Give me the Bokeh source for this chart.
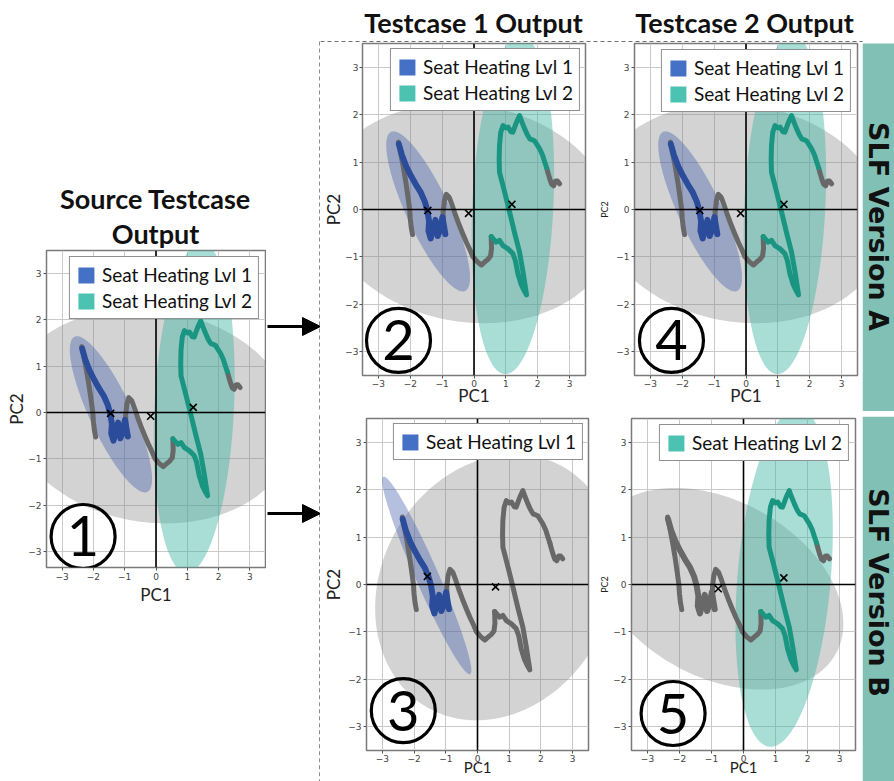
import math
import numpy as np
from bokeh.plotting import figure
from bokeh.layouts import row, column
from bokeh.models import Range1d, FixedTicker, Span, Legend, LegendItem, Arrow, NormalHead
from bokeh.core.properties import value
from bokeh.embed import file_html
from bokeh.resources import INLINE

# ---------------- data ----------------
tick_values = [-3, -2, -1, 0, 1, 2, 3]
tick_labels = ["−3", "−2", "−1", "0", "1", "2", "3"]

# trajectory (PC1, PC2) in pieces
left_gray_x = [-2.37, -2.30, -2.22, -2.14, -2.07, -2.02, -2.00, -1.97, -1.93]
left_gray_y = [1.42, 1.18, 0.90, 0.58, 0.25, 0.00, -0.20, -0.38, -0.53]

lvl1_x = [-2.36, -2.26, -2.12, -1.97, -1.82, -1.67, -1.54, -1.46, -1.41, -1.43,
          -1.36, -1.29, -1.21, -1.14, -1.06, -0.99, -0.94, -0.90]
lvl1_y = [1.38, 1.14, 0.90, 0.70, 0.52, 0.36, 0.16, -0.04, -0.25, -0.45,
          -0.61, -0.42, -0.22, -0.56, -0.42, -0.16, -0.36, -0.52]

mid_gray_x = [-0.90, -0.96, -0.97, -0.93, -0.87, -0.78, -0.68, -0.58, -0.48, -0.36,
              -0.24, -0.12, -0.03, 0.10, 0.23, 0.35, 0.44, 0.52, 0.55, 0.54]
mid_gray_y = [-0.52, -0.30, -0.05, 0.18, 0.32, 0.26, 0.08, -0.12, -0.30, -0.50,
              -0.69, -0.86, -1.00, -1.10, -1.17, -1.10, -1.05, -0.98, -0.82, -0.57]

lvl2_x = [0.54, 0.62, 0.70, 0.80, 0.91, 1.07, 1.22, 1.30, 1.38, 1.48, 1.58, 1.65,
          1.54, 1.43, 1.27, 1.12, 0.96, 0.80, 0.79, 0.80, 0.84, 0.91, 1.00, 1.07,
          1.16, 1.22, 1.28, 1.34, 1.43, 1.50, 1.59, 1.67, 1.75, 1.90, 2.06, 2.15, 2.22, 2.28]
lvl2_y = [-0.57, -0.63, -0.69, -0.65, -0.76, -0.83, -0.93, -1.08, -1.36, -1.58, -1.72, -1.80,
          -1.32, -0.90, -0.48, -0.06, 0.37, 0.79, 1.05, 1.35, 1.63, 1.77, 1.72, 1.74,
          1.64, 1.63, 1.74, 1.85, 1.98, 1.85, 1.70, 1.58, 1.49, 1.45, 1.28, 1.15, 1.00, 0.88]

right_gray_x = [2.28, 2.32, 2.38, 2.44, 2.50, 2.56, 2.62, 2.69]
right_gray_y = [0.88, 0.78, 0.64, 0.53, 0.50, 0.60, 0.60, 0.54]

# class centres ("x" markers)
centres_a_x = [-1.45, -0.17, 1.19]
centres_a_y = [-0.02, -0.08, 0.11]
centres_b1_x = [-1.58, 0.57]
centres_b1_y = [0.17, -0.05]
centres_b2_x = [-0.79, 1.26]
centres_b2_y = [-0.09, 0.14]

# ellipses: centre x, centre y, semi-axis a, semi-axis b, angle (deg)
ell_gray_a = [-0.17, -0.08, 4.6, 2.3, -4.0]
ell_lvl1_a = [-1.44, -0.04, 2.05, 0.61, -53.5]
ell_lvl2_a = [1.22, 0.10, 3.58, 1.27, 85.7]
ell_gray_b1 = [0.57, -0.06, 3.85, 2.73, 13.6]
ell_lvl1_b1 = [-1.60, 0.19, 2.49, 0.33, -56.4]
ell_gray_b2 = [-0.79, -0.09, 4.0, 1.95, -14.0]
ell_lvl2_b2 = [1.27, 0.15, 3.6, 1.45, 82.0]

legend_labels = ["Seat Heating Lvl 1", "Seat Heating Lvl 2"]
titles_top = ["Testcase 1 Output", "Testcase 2 Output"]
title_left = ["Source Testcase", "Output"]
side_labels = ["SLF Version A", "SLF Version B"]
panel_numbers = ["1", "2", "3", "4", "5"]

# ---------------- styles ----------------
C_BLUE_SW = "#4470c6"
C_TEAL_SW = "#4cc2b3"
C_BLUE_PT = "#2b4b9b"
C_TEAL_PT = "#1a9581"
C_GRAY_PT = "#686868"
C_GRAY_EL = "#808080"
C_BLUE_EL = "#3a5aa8"
C_TEAL_EL = "#3db5a3"
C_SIDE = "#80c0b5"
DASH = dict(line_color="#707070", line_width=1.2, line_dash="4 3")


def ellipse_xy(params):
    cx, cy, a, b, ang = params
    t = np.linspace(0, 2 * np.pi, 241)
    r = math.radians(ang)
    ex = cx + a * np.cos(t) * math.cos(r) - b * np.sin(t) * math.sin(r)
    ey = cy + a * np.cos(t) * math.sin(r) + b * np.sin(t) * math.cos(r)
    return ex, ey


def make_panel(cfg):
    gl, gt, gr, gb = cfg["fig"]
    fl, ft, fr, fb = cfg["frame"]
    p = figure(width=gr - gl, height=gb - gt,
               x_range=Range1d(-3.5, 3.5), y_range=Range1d(*cfg["yr"]),
               min_border_left=fl - gl, min_border_right=gr - fr,
               min_border_top=ft - gt, min_border_bottom=gb - fb,
               toolbar_location=None, output_backend="svg")
    p.background_fill_color = "white"
    p.border_fill_color = "white"
    p.outline_line_color = "#7a7a7a"
    p.outline_line_width = 1.5
    for ax in (p.xaxis[0], p.yaxis[0]):
        ax.ticker = FixedTicker(ticks=tick_values, minor_ticks=[])
        ax.major_label_overrides = dict(zip(tick_values, tick_labels))
        ax.axis_line_color = None
        ax.major_tick_line_color = "#555555"
        ax.major_tick_in = 0
        ax.minor_tick_out = 0
        ax.minor_tick_in = 0
        ax.minor_tick_line_color = None
        ax.major_label_text_font = "DejaVu Sans"
        ax.major_label_text_font_size = "9px"
        ax.major_label_text_color = "#444444"
        ax.axis_label_text_font = "Lato"
        ax.axis_label_text_font_style = "normal"
        ax.axis_label_text_color = "#222222"
    xa, ya = p.xaxis[0], p.yaxis[0]
    xa.axis_label = "PC1"
    ya.axis_label = "PC2"
    xa.major_tick_out, xa.major_label_standoff, xa.axis_label_standoff, xs = cfg["xax"]
    ya.major_tick_out, ya.major_label_standoff, ya.axis_label_standoff, ys = cfg["yax"]
    xa.axis_label_text_font_size = xs
    ya.axis_label_text_font_size = ys
    for g in (p.xgrid[0], p.ygrid[0]):
        g.ticker = FixedTicker(ticks=tick_values, minor_ticks=[])
        g.grid_line_color = "#c9c9c9"
        g.grid_line_width = 1

    for params, col, alpha in cfg["ells"]:
        ex, ey = ellipse_xy(params)
        p.patch(ex, ey, fill_color=col, fill_alpha=alpha, line_color=None)

    lw = dict(line_join="round", line_cap="round")
    p.line(left_gray_x, left_gray_y, line_color=C_GRAY_PT, line_width=5, **lw)
    p.line(mid_gray_x, mid_gray_y, line_color=C_GRAY_PT, line_width=5, **lw)
    p.line(right_gray_x, right_gray_y, line_color=C_GRAY_PT, line_width=5, **lw)
    p.line(lvl2_x, lvl2_y, line_color=cfg["c2"], line_width=5, **lw)
    p.line(lvl1_x, lvl1_y, line_color=cfg["c1"], line_width=6, **lw)

    p.add_layout(Span(location=0, dimension="height", line_color="black", line_width=1.6))
    p.add_layout(Span(location=0, dimension="width", line_color="black", line_width=1.6))

    p.scatter(cfg["cx"], cfg["cy"], marker="x", size=10, line_color="black", line_width=1.6)

    nx, ny = cfg["num_xy"]
    p.scatter([nx], [ny], marker="circle", size=64, fill_color=None,
              line_color="black", line_width=3.2)
    p.text([nx], [ny], [cfg["num"]], text_font=value("Lato"), text_font_size="56px",
           text_align="center", text_baseline="middle", text_color="black")

    items = []
    for lab, col in cfg["legend"]:
        # legend swatch only: one empty (NaN) row so the swatch is drawn
        r = p.quad(left=[np.nan], right=[np.nan], top=[np.nan], bottom=[np.nan],
                   fill_color=col, line_color=None)
        items.append(LegendItem(label=lab, renderers=[r]))
    leg = Legend(items=items, location="top_right", margin=cfg.get("lmargin", 5),
                 padding=6, spacing=3, label_standoff=6,
                 glyph_width=20, glyph_height=20, label_height=20,
                 label_text_font="Lato", label_text_font_size="19px",
                 label_text_color="#111111",
                 border_line_color="#222222", border_line_width=1.2,
                 background_fill_color="white", background_fill_alpha=1.0)
    p.add_layout(leg)
    return p


def deco(box):
    x0, y0, x1, y1 = box
    p = figure(width=x1 - x0, height=y1 - y0,
               x_range=Range1d(x0, x1), y_range=Range1d(-y1, -y0),
               min_border=0, min_border_left=0, min_border_right=0,
               min_border_top=0, min_border_bottom=0,
               x_axis_location=None, y_axis_location=None,
               toolbar_location=None, output_backend="svg")
    p.grid.visible = False
    p.outline_line_color = None
    p.background_fill_color = "white"
    p.border_fill_color = "white"
    return p


def iso(p):
    # wrap a figure on its own so that neighbouring figures do not align frames
    return column(p)


TXT = dict(text_font=value("Lato"), text_font_style="bold", text_color="#111111",
           text_align="center", text_baseline="middle")

ells_a = [(ell_gray_a, C_GRAY_EL, 0.35), (ell_lvl1_a, C_BLUE_EL, 0.38), (ell_lvl2_a, C_TEAL_EL, 0.45)]
leg_both = [(legend_labels[0], C_BLUE_SW), (legend_labels[1], C_TEAL_SW)]

p1 = make_panel(dict(fig=(0, 249, 266, 781), frame=(46, 250, 265, 567), yr=(-3.35, 3.5),
                     xax=(3, 2, 1, "17px"), yax=(3, 2, -2, "17px"),
                     ells=ells_a, c1=C_BLUE_PT, c2=C_TEAL_PT,
                     cx=centres_a_x, cy=centres_a_y, num=panel_numbers[0], num_xy=(-2.33, -2.68),
                     legend=leg_both, lmargin=6))
p2 = make_panel(dict(fig=(320, 42, 596, 411), frame=(362, 43, 585, 375), yr=(-3.5, 3.5),
                     xax=(3, 1, -5, "17px"), yax=(3, 1, -2, "17px"),
                     ells=ells_a, c1=C_BLUE_PT, c2=C_TEAL_PT,
                     cx=centres_a_x, cy=centres_a_y, num=panel_numbers[1], num_xy=(-2.37, -2.76),
                     legend=leg_both))
p4 = make_panel(dict(fig=(596, 42, 862, 411), frame=(633, 43, 857, 375), yr=(-3.5, 3.5),
                     xax=(3, 1, -5, "17px"), yax=(3, 2, 3, "9px"),
                     ells=ells_a, c1=C_BLUE_PT, c2=C_TEAL_PT,
                     cx=centres_a_x, cy=centres_a_y, num=panel_numbers[3], num_xy=(-2.34, -2.76),
                     legend=leg_both, lmargin=6))
p3 = make_panel(dict(fig=(320, 416, 596, 781), frame=(366, 418, 588, 750), yr=(-3.5, 3.5),
                     xax=(3, 1, -7, "15px"), yax=(3, 2, 1, "17px"),
                     ells=[(ell_gray_b1, C_GRAY_EL, 0.35), (ell_lvl1_b1, C_BLUE_EL, 0.38)],
                     c1=C_BLUE_PT, c2=C_GRAY_PT,
                     cx=centres_b1_x, cy=centres_b1_y, num=panel_numbers[2], num_xy=(-2.34, -2.66),
                     legend=[(legend_labels[0], C_BLUE_SW)]))
p5 = make_panel(dict(fig=(596, 416, 862, 781), frame=(630, 418, 855, 750), yr=(-3.5, 3.5),
                     xax=(3, 1, -7, "15px"), yax=(3, 2, 0, "9px"),
                     ells=[(ell_gray_b2, C_GRAY_EL, 0.35), (ell_lvl2_b2, C_TEAL_EL, 0.45)],
                     c1=C_GRAY_PT, c2=C_TEAL_PT,
                     cx=centres_b2_x, cy=centres_b2_y, num=panel_numbers[4], num_xy=(-2.2, -2.72),
                     legend=[(legend_labels[1], C_TEAL_SW)], lmargin=6))

# left title
tA = deco((0, 0, 266, 249))
tA.text([155, 155], [-198, -233], title_left, text_font_size="27px", **TXT)

# arrows + left dashed edge of the boxes
ar = deco((266, 0, 320, 781))
for yy in (326, 513):
    ar.add_layout(Arrow(x_start=267, y_start=-yy, x_end=320, y_end=-yy, line_width=3,
                        line_color="black",
                        end=NormalHead(size=18, fill_color="black", line_color="black")))
ar.segment(x0=[319.3, 319.3], y0=[-41, -414.8], x1=[319.3, 319.3], y1=[-411.7, -781], **DASH)

# top strip with titles
ts = deco((320, 0, 894, 42))
ts.text([473, 744], [-22, -22], titles_top, text_font_size="27px", **TXT)
ts.segment(x0=[320], y0=[-41], x1=[862], y1=[-41], **DASH)

SIDE_TXT = dict(text_font=value("DejaVu Sans"), text_font_style="bold", text_color="#111111",
                text_align="center", text_baseline="middle", text_font_size="27px")

# side bars
sa = deco((862, 42, 894, 411))
sa.quad(left=[862], right=[894], bottom=[-411], top=[-43], fill_color=C_SIDE, line_color=None)
sa.text([878], [-226], [side_labels[0]], angle=-math.pi / 2, **SIDE_TXT)

ms = deco((320, 411, 894, 416))
ms.segment(x0=[320, 320], y0=[-411.8, -414.8], x1=[862, 862], y1=[-411.8, -414.8], **DASH)
ms.quad(left=[862], right=[894], bottom=[-416], top=[-414.5], fill_color=C_SIDE, line_color=None)

sb = deco((862, 416, 894, 781))
sb.quad(left=[862], right=[894], bottom=[-781], top=[-416], fill_color=C_SIDE, line_color=None)
sb.text([878], [-592], [side_labels[1]], angle=-math.pi / 2, **SIDE_TXT)

layout = row(
    column(iso(tA), iso(p1)),
    iso(ar),
    column(iso(ts), row(iso(p2), iso(p4), iso(sa)), iso(ms), row(iso(p3), iso(p5), iso(sb))),
)

open("out.html", "w").write(file_html(layout, INLINE, "PCA testcases"))
